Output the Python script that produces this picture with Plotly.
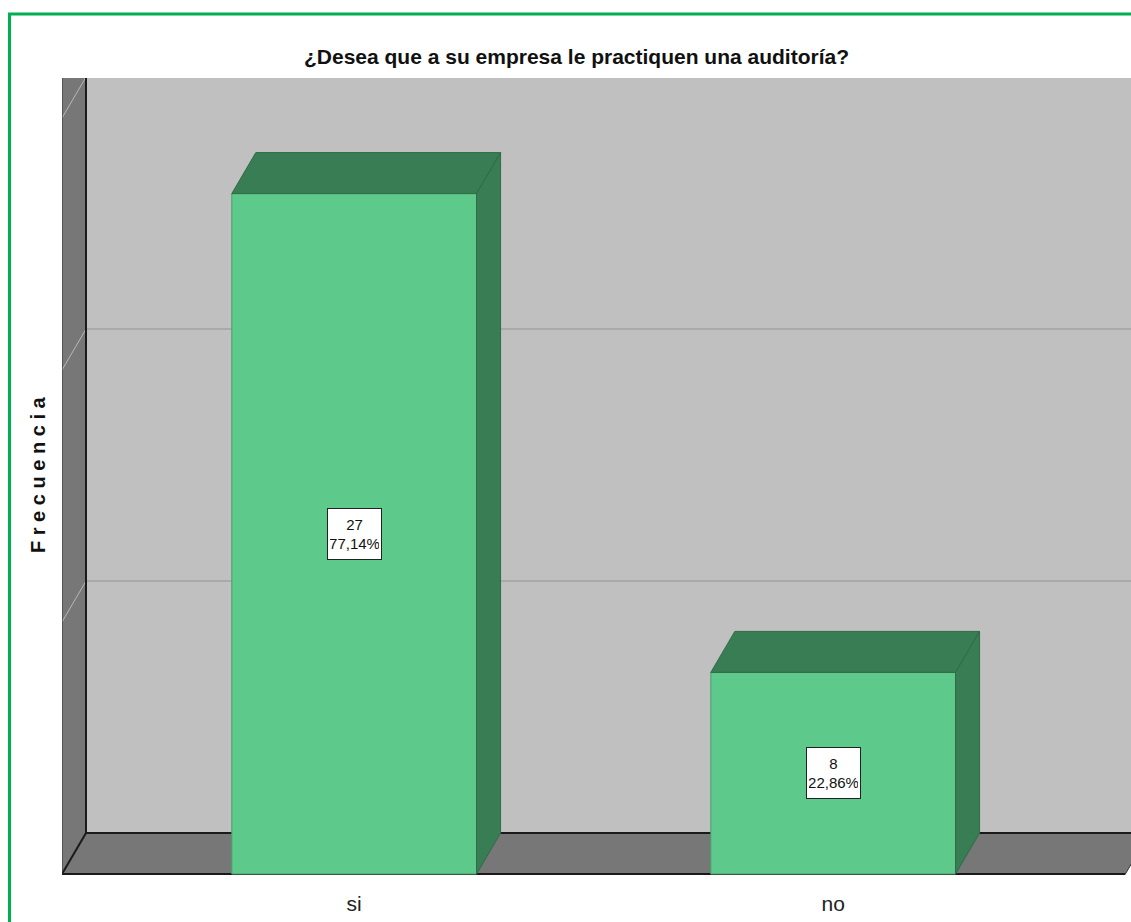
import plotly.graph_objects as go

# ---- data ----
categories = ["si", "no"]
counts = [27, 8]
pct_labels = ["77,14%", "22,86%"]
grid_values = [10, 20, 30]
title_text = "¿Desea que a su empresa le practiquen una auditoría?"
y_title = "Frecuencia"

# ---- geometry / styles ----
W, H = 1131, 922
PLOT_L, PLOT_T, PLOT_B = 62, 78, 877  # page pixel positions
ML = PLOT_L
MT = PLOT_T
MB = H - PLOT_B
MR = 0
plot_w = W - ML - MR
plot_h = H - MT - MB
px_per_x = 479.0
px_per_y = 25.2
x_lo = -0.61
x_hi = x_lo + plot_w / px_per_x
y_lo = -3 / px_per_y
y_hi = y_lo + plot_h / px_per_y
DX = 24 / px_per_x
DY = 41 / px_per_y
BAR_W = 0.511
X_FLOOR_R = 1.61
WALL_TOP = max(grid_values)

FRONT = "#5dc98a"
DARK = "#387d54"
WALL = "#c0c0c0"
SIDE = "#777777"
GRID = "#aaaaaa"
FONT = "Liberation Sans, Arial, sans-serif"

xs = list(range(len(categories)))

def poly(pts):
    return "M " + " L ".join(f"{x},{y}" for x, y in pts) + " Z"

def px_to_paper_x(px):
    return (px - PLOT_L) / plot_w

def px_to_paper_y(py):
    return (PLOT_B - py) / plot_h

shapes = []
# back wall
shapes.append(dict(type="rect", xref="x", yref="y", layer="below",
                   x0=x_lo + DX, x1=X_FLOOR_R + DX, y0=DY, y1=WALL_TOP + DY + 2,
                   fillcolor=WALL, line=dict(width=0)))
# back-wall gridlines
for v in grid_values:
    shapes.append(dict(type="line", xref="x", yref="y", layer="below",
                       x0=x_lo + DX, x1=X_FLOOR_R + DX, y0=v + DY, y1=v + DY,
                       line=dict(color=GRID, width=2)))
# left wall
shapes.append(dict(type="path", xref="x", yref="y", layer="below",
                   path=poly([(x_lo, 0), (x_lo + DX, DY), (x_lo + DX, WALL_TOP + DY + 2), (x_lo, WALL_TOP + 2)]),
                   fillcolor=SIDE, line=dict(width=0)))
for v in grid_values:
    shapes.append(dict(type="line", xref="x", yref="y", layer="below",
                       x0=x_lo, y0=v, x1=x_lo + DX, y1=v + DY,
                       line=dict(color="#b8b8b8", width=1)))
# floor
shapes.append(dict(type="path", xref="x", yref="y", layer="below",
                   path=poly([(x_lo, 0), (X_FLOOR_R, 0), (X_FLOOR_R + DX, DY), (x_lo + DX, DY)]),
                   fillcolor=SIDE, line=dict(width=0)))
# edges
edge = dict(color="#1a1a1a", width=2)
shapes.append(dict(type="line", xref="x", yref="y", layer="below",
                   x0=x_lo + DX, y0=DY, x1=X_FLOOR_R + DX, y1=DY, line=edge))
shapes.append(dict(type="line", xref="x", yref="y", layer="below",
                   x0=x_lo, y0=0, x1=X_FLOOR_R, y1=0, line=edge))
shapes.append(dict(type="line", xref="x", yref="y", layer="below",
                   x0=x_lo, y0=0, x1=x_lo + DX, y1=DY, line=edge))
shapes.append(dict(type="line", xref="x", yref="y", layer="below",
                   x0=x_lo + DX, y0=DY, x1=x_lo + DX, y1=WALL_TOP + DY + 2, line=edge))
shapes.append(dict(type="line", xref="x", yref="y", layer="below",
                   x0=x_lo, y0=0, x1=x_lo, y1=WALL_TOP + 2, line=dict(color="#333333", width=1)))
shapes.append(dict(type="line", xref="x", yref="y", layer="below",
                   x0=X_FLOOR_R, y0=0, x1=X_FLOOR_R + DX, y1=DY, line=dict(color="#333333", width=1)))

# bar top & side faces
for x, v in zip(xs, counts):
    xl, xr = x - BAR_W / 2, x + BAR_W / 2
    shapes.append(dict(type="path", xref="x", yref="y", layer="above",
                       path=poly([(xl, v), (xr, v), (xr + DX, v + DY), (xl + DX, v + DY)]),
                       fillcolor=DARK, line=dict(color="#2f6a47", width=1)))
    shapes.append(dict(type="path", xref="x", yref="y", layer="above",
                       path=poly([(xr, 0), (xr + DX, DY), (xr + DX, v + DY), (xr, v)]),
                       fillcolor=DARK, line=dict(color="#2f6a47", width=1)))

# green frame
shapes.append(dict(type="rect", xref="paper", yref="paper", layer="above",
                   x0=px_to_paper_x(9.5), x1=px_to_paper_x(1145),
                   y0=px_to_paper_y(945), y1=px_to_paper_y(14),
                   line=dict(color="#00b050", width=3), fillcolor="rgba(0,0,0,0)"))

fig = go.Figure()
fig.add_trace(go.Bar(x=xs, y=counts, width=BAR_W,
                     marker=dict(color=FRONT, line=dict(color="#4a9e6c", width=1)),
                     hoverinfo="skip"))

annotations = []
for x, v, p in zip(xs, counts, pct_labels):
    annotations.append(dict(x=x, y=v / 2, xref="x", yref="y", showarrow=False,
                            text=f"{v}<br>{p}", align="center", valign="middle",
                            width=49, height=46,
                            font=dict(family=FONT, size=15, color="#111111"),
                            bgcolor="white", bordercolor="#222222", borderwidth=1, borderpad=2))

annotations.append(dict(x=px_to_paper_x(38), y=px_to_paper_y(475), xref="paper", yref="paper",
                        showarrow=False, textangle=-90, xanchor="center", yanchor="middle",
                        text=" ".join(y_title),
                        font=dict(family=FONT, size=20, color="#111111", weight="bold")))

annotations.append(dict(x=px_to_paper_x(576), y=px_to_paper_y(57), xref="paper", yref="paper",
                        showarrow=False, xanchor="center", yanchor="middle",
                        text=title_text,
                        font=dict(family=FONT, size=21, color="#111111", weight="bold")))

fig.update_layout(
    width=W, height=H,
    margin=dict(l=ML, r=MR, t=MT, b=MB, pad=0),
    paper_bgcolor="white", plot_bgcolor="white",
    showlegend=False,
    shapes=shapes,
    annotations=annotations,
    xaxis=dict(range=[x_lo, x_hi], tickvals=xs, ticktext=categories,
               showgrid=False, zeroline=False, showline=False, ticks="",
               ticklabelstandoff=12,
               tickfont=dict(family=FONT, size=21, color="#222222")),
    yaxis=dict(range=[y_lo, y_hi], showgrid=False, zeroline=False, showline=False,
               showticklabels=False, ticks=""),
)

fig.write_html(
    "out.html",
    config={"displayModeBar": False},
    post_script=(
        "document.documentElement.style.overflow='hidden';"
        "document.body.style.overflow='hidden';"
        "document.body.style.margin='0';"
    ),
)
